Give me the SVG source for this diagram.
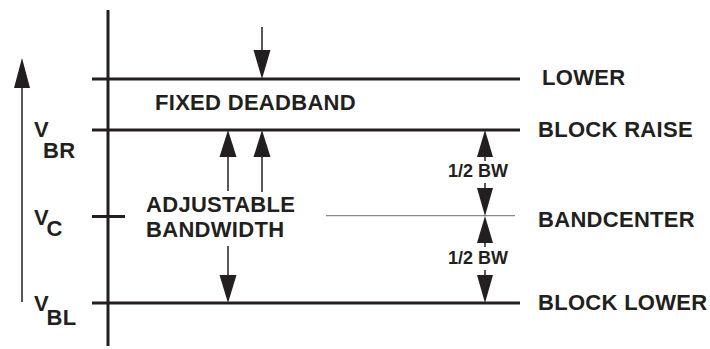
<svg xmlns="http://www.w3.org/2000/svg" width="710" height="349" viewBox="0 0 710 349">
<style>
.t{font-family:"Liberation Sans",Arial,sans-serif;font-weight:bold;font-size:22px;letter-spacing:0.3px;fill:#231f20}
.s{font-family:"Liberation Sans",Arial,sans-serif;font-weight:bold;font-size:18px;fill:#231f20}
.thick{stroke:#231f20;stroke-width:3;fill:none}
.thin{stroke:#231f20;stroke-width:1.5;fill:none}
.head{fill:#231f20}
</style>
<rect width="710" height="349" fill="#fff"/>
<g id="axis">
<line class="thick" x1="108" y1="10" x2="108" y2="346"/>
<line class="thick" x1="92" y1="216.5" x2="125" y2="216.5"/>
</g>
<g id="lower">
<line class="thick" x1="92" y1="79" x2="520" y2="79"/>
<text class="t" x="542" y="85">LOWER</text>
</g>
<g id="block-raise">
<line class="thick" x1="92" y1="130" x2="520" y2="130"/>
<text class="t" x="538" y="137">BLOCK RAISE</text>
</g>
<g id="bandcenter">
<line x1="326" y1="215.7" x2="515" y2="215.7" stroke="#8a8a8a" stroke-width="1.2"/>
<text class="t" x="538" y="227">BANDCENTER</text>
</g>
<g id="block-lower">
<line class="thick" x1="92" y1="303" x2="520" y2="303"/>
<text class="t" x="538" y="310">BLOCK LOWER</text>
</g>
<g id="labels">
<text class="t" x="155" y="110">FIXED DEADBAND</text>
<text class="t" x="146" y="212">ADJUSTABLE</text>
<text class="t" x="146" y="237">BANDWIDTH</text>
<text class="s" x="448" y="177">1/2 BW</text>
<text class="s" x="448" y="264">1/2 BW</text>
<text class="t" x="34" y="137">V</text>
<text class="t" x="43" y="157.5">BR</text>
<text class="t" x="34" y="225">V</text>
<text class="t" x="46.5" y="236">C</text>
<text class="t" x="34" y="311">V</text>
<text class="t" x="46.5" y="325">BL</text>
</g>
<g id="connectors">
<line class="thin" x1="22" y1="88" x2="22" y2="302"/>
<polygon class="head" points="22,58 14,88 30,88"/>
<line class="thin" x1="262" y1="27" x2="262" y2="50"/>
<polygon class="head" points="262,79 253.5,50 270.5,50"/>
<line class="thin" x1="228" y1="157" x2="228" y2="191"/>
<polygon class="head" points="228,130 219.5,157 236.5,157"/>
<line class="thin" x1="262" y1="157" x2="262" y2="192"/>
<polygon class="head" points="262,130 253.5,157 270.5,157"/>
<line class="thin" x1="228" y1="246" x2="228" y2="275"/>
<polygon class="head" points="228,303 219.5,275 236.5,275"/>
<line class="thin" x1="485" y1="157" x2="485" y2="161"/>
<polygon class="head" points="485,130 477,157 493,157"/>
<line class="thin" x1="485" y1="183" x2="485" y2="188"/>
<polygon class="head" points="485,216 477,188 493,188"/>
<line class="thin" x1="485" y1="243" x2="485" y2="247"/>
<polygon class="head" points="485,216 477,243 493,243"/>
<line class="thin" x1="485" y1="270" x2="485" y2="275"/>
<polygon class="head" points="485,303 477,275 493,275"/>
</g>
</svg>
